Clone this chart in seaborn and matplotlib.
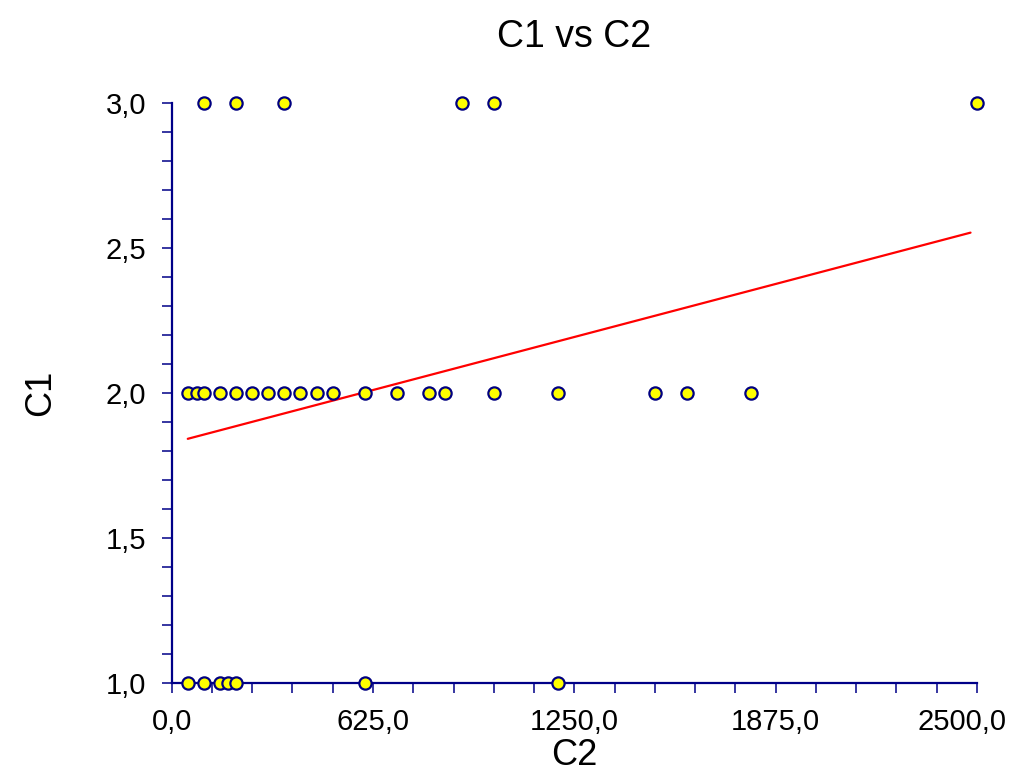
import matplotlib
matplotlib.use("Agg")
import matplotlib.pyplot as plt
import matplotlib.transforms as mtransforms
from matplotlib.ticker import FixedLocator, AutoMinorLocator, FuncFormatter
import seaborn as sns
import pandas as pd

# ---- data ----
c2_at_3 = [100, 200, 350, 900, 1000, 2500]
c2_at_2 = [50, 80, 100, 150, 200, 250, 300, 350, 400, 450, 500, 600,
           700, 800, 850, 1000, 1200, 1500, 1600, 1800]
c2_at_1 = [50, 100, 150, 175, 200, 600, 1200]

fit_x = [50, 2480]          # fitted line end points
fit_y = [1.842, 2.553]

x_ticks = [0, 625, 1250, 1875, 2500]
y_ticks = [1.0, 1.5, 2.0, 2.5, 3.0]

df = pd.DataFrame({
    "C2": c2_at_3 + c2_at_2 + c2_at_1,
    "C1": [3] * len(c2_at_3) + [2] * len(c2_at_2) + [1] * len(c2_at_1),
})
fit = pd.DataFrame({"C2": fit_x, "C1": fit_y})

sns.set_theme(style="white")
plt.rcParams["font.family"] = ["Liberation Sans", "DejaVu Sans"]
plt.rcParams["text.color"] = "black"
plt.rcParams["axes.labelcolor"] = "black"

navy = "#000088"
fig = plt.figure(figsize=(10.26, 7.74), dpi=100)
ax = fig.add_axes([0.1673, 0.1176, 0.7849, 0.7493])

sns.lineplot(data=fit, x="C2", y="C1", color="#ff0000", linewidth=1.6,
             ax=ax, estimator=None, sort=False, zorder=2)
sns.scatterplot(data=df, x="C2", y="C1", ax=ax, s=78, color="#ffff00",
                edgecolor="#000080", linewidth=1.6, zorder=3, clip_on=False)

ax.set_xlim(0, 2500)
ax.set_ylim(1, 3)

for side in ["top", "right"]:
    ax.spines[side].set_visible(False)
for side in ["left", "bottom"]:
    ax.spines[side].set_color(navy)
    ax.spines[side].set_linewidth(1.6)

ax.xaxis.set_major_locator(FixedLocator(x_ticks))
ax.yaxis.set_major_locator(FixedLocator(y_ticks))
ax.xaxis.set_minor_locator(AutoMinorLocator(5))
ax.yaxis.set_minor_locator(AutoMinorLocator(5))
fmt = FuncFormatter(lambda v, p: f"{v:.1f}".replace(".", ","))
ax.xaxis.set_major_formatter(fmt)
ax.yaxis.set_major_formatter(fmt)

ax.tick_params(which="both", direction="out", length=7.2, width=1.1,
               color=navy, labelsize=21, labelcolor="black", pad=11,
               bottom=True, left=True)

# keep the last x tick label inside the figure, as in the reference
last = ax.get_xticklabels()[-1]
last.set_transform(last.get_transform() +
                   mtransforms.ScaledTranslation(-0.15, 0, fig.dpi_scale_trans))

ax.set_xlabel("C2", fontsize=26, labelpad=1, color="black")
ax.set_ylabel("C1", fontsize=26, labelpad=34, color="black")
ax.set_title("C1 vs C2", fontsize=27, pad=40, color="black")
ax.grid(False)

fig.savefig("out.png", dpi=100)
